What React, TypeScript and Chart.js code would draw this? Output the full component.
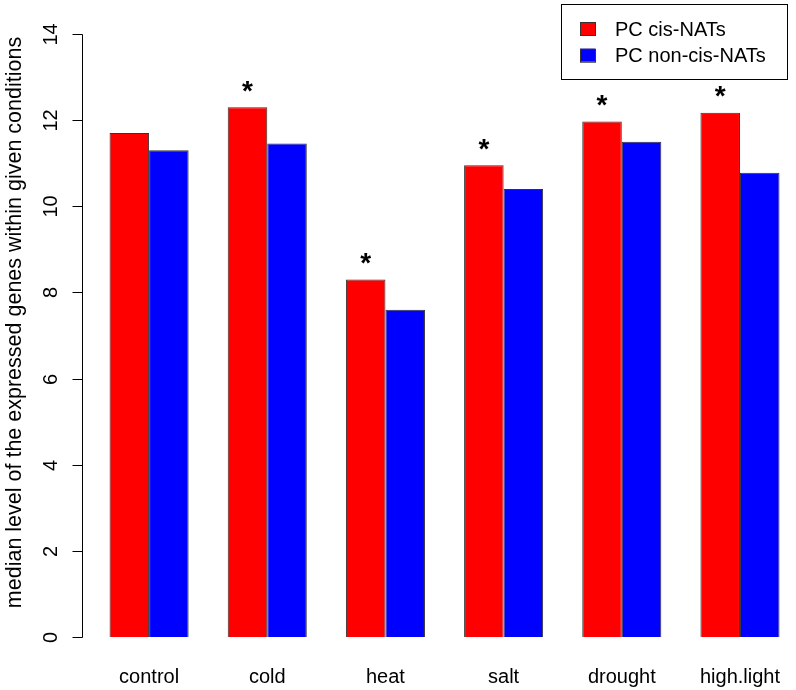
import React, { useEffect, useRef } from 'react';
import { Chart, registerables } from 'chart.js';

Chart.register(...registerables);

const FONT = "'Liberation Sans', Arial, Helvetica, sans-serif";

const categories = ['control', 'cold', 'heat', 'salt', 'drought', 'high.light'];
const cisNATs = [11.7, 12.3, 8.3, 10.95, 11.97, 12.17];
const nonCisNATs = [11.3, 11.46, 7.6, 10.4, 11.5, 10.78];
const significant = [false, true, true, true, true, true];
const seriesLabels = ['PC cis-NATs', 'PC non-cis-NATs'];
const seriesColors = ['#ff0000', '#0000ff'];
const yTicks = [0, 2, 4, 6, 8, 10, 12, 14];
const yTitle = 'median level of the expressed genes within given conditions';

const rStylePlugin = {
  id: 'rStyle',
  afterDraw(chart: any) {
    const { ctx, chartArea, scales } = chart;
    const y = scales.y;
    const axisX = Math.round(chartArea.left - 8) + 0.5;
    ctx.save();
    ctx.strokeStyle = '#000';
    ctx.fillStyle = '#000';
    ctx.lineWidth = 1;

    // y axis line
    const yTop = y.getPixelForValue(yTicks[yTicks.length - 1]);
    const yBot = y.getPixelForValue(yTicks[0]);
    ctx.beginPath();
    ctx.moveTo(axisX, Math.round(yBot) + 0.5);
    ctx.lineTo(axisX, Math.round(yTop) + 0.5);
    ctx.stroke();

    // ticks + labels
    ctx.font = `20px ${FONT}`;
    ctx.textAlign = 'center';
    ctx.textBaseline = 'alphabetic';
    yTicks.forEach((t) => {
      const py = Math.round(y.getPixelForValue(t)) + 0.5;
      ctx.beginPath();
      ctx.moveTo(axisX - 10, py);
      ctx.lineTo(axisX, py);
      ctx.stroke();
      ctx.save();
      ctx.translate(axisX - 26, py);
      ctx.rotate(-Math.PI / 2);
      ctx.fillText(String(t), 0, 0);
      ctx.restore();
    });

    // axis title
    ctx.save();
    ctx.font = `21.5px ${FONT}`;
    ctx.translate(21, (yTop + yBot) / 2 - 13);
    ctx.rotate(-Math.PI / 2);
    ctx.fillText(yTitle, 0, 0);
    ctx.restore();

    // significance stars
    const meta = chart.getDatasetMeta(0);
    ctx.font = `bold 28px ${FONT}`;
    const m = ctx.measureText('*');
    const asc = m.actualBoundingBoxAscent || 20;
    const desc = m.actualBoundingBoxDescent || -8;
    meta.data.forEach((bar: any, i: number) => {
      if (!significant[i]) return;
      const cy = bar.y - 21;
      ctx.fillText('*', bar.x, cy + (asc - desc) / 2);
    });

    // legend box
    const lx = 561, ly = 4, lw = 226, lh = 75;
    ctx.strokeRect(lx + 0.5, ly + 0.5, lw, lh);
    ctx.font = `20px ${FONT}`;
    ctx.textAlign = 'left';
    chart.data.datasets.forEach((ds: any, i: number) => {
      const baseY = 35.5 + i * 26.7;
      ctx.fillStyle = ds.backgroundColor;
      ctx.fillRect(580, baseY - 13.5, 15, 13);
      ctx.strokeStyle = '#333';
      ctx.strokeRect(580.5, baseY - 13, 15, 13);
      ctx.fillStyle = '#000';
      ctx.fillText(ds.label, 615, baseY);
    });
    ctx.restore();
  },
};

export default function App() {
  const canvasRef = useRef<HTMLCanvasElement>(null);

  useEffect(() => {
    document.body.style.margin = '0';
    const canvas = canvasRef.current;
    if (!canvas) return;
    const chart = new Chart(canvas, {
      type: 'bar',
      data: {
        labels: categories,
        datasets: [
          {
            label: seriesLabels[0],
            data: cisNATs,
            backgroundColor: seriesColors[0],
            borderColor: '#333',
            borderWidth: 1,
          },
          {
            label: seriesLabels[1],
            data: nonCisNATs,
            backgroundColor: seriesColors[1],
            borderColor: '#333',
            borderWidth: 1,
          },
        ],
      },
      options: {
        animation: false,
        responsive: false,
        devicePixelRatio: 1,
        layout: { padding: { left: 90, right: 0, top: 34, bottom: 3 } },
        datasets: {
          bar: { categoryPercentage: 0.669, barPercentage: 1 },
        },
        plugins: {
          legend: { display: false },
          tooltip: { enabled: false },
        },
        scales: {
          x: {
            grid: { display: false },
            border: { display: false },
            afterFit: (scale: any) => {
              scale.height = 50;
            },
            ticks: {
              color: '#000',
              font: { family: FONT, size: 20 },
              padding: 20,
              maxRotation: 0,
              minRotation: 0,
            },
          },
          y: {
            display: false,
            min: 0,
            max: 14,
          },
        },
      },
      plugins: [rStylePlugin],
    });
    return () => chart.destroy();
  }, []);

  return (
    <div style={{ width: 796, height: 690, overflow: 'hidden', background: '#fff' }}>
      <canvas ref={canvasRef} width={800} height={690} style={{ display: 'block' }} />
    </div>
  );
}
